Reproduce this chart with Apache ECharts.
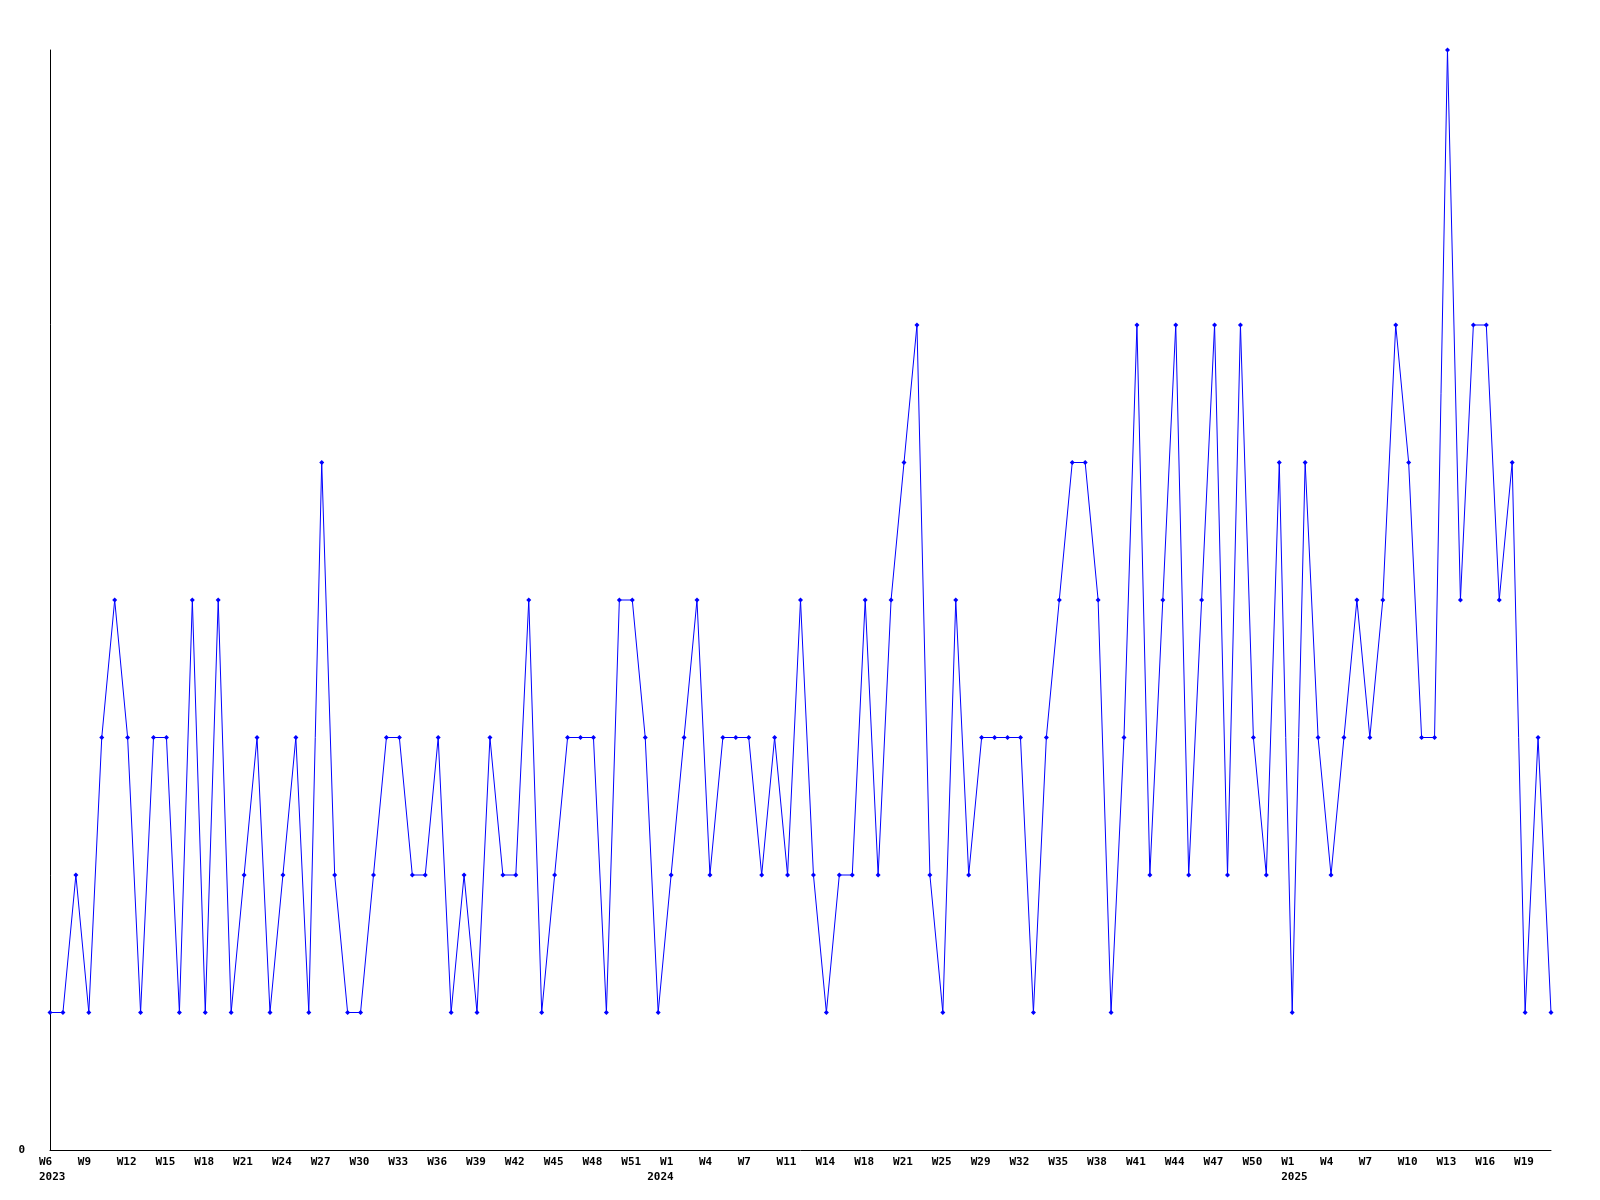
<!DOCTYPE html>
<html>
<head>
<meta charset="utf-8">
<script src="https://cdn.jsdelivr.net/npm/echarts@6/dist/echarts.min.js"></script>
<style>
html,body{margin:0;padding:0;background:#fff;}
#chart{width:1600px;height:1200px;}
</style>
</head>
<body>
<div id="chart"></div>
<script>
// Categories (year-week), one per data point
const weeks = [
  "2023-W6","2023-W7","2023-W8","2023-W9","2023-W10","2023-W11","2023-W12","2023-W13","2023-W14","2023-W15",
  "2023-W16","2023-W17","2023-W18","2023-W19","2023-W20","2023-W21","2023-W22","2023-W23","2023-W24","2023-W25",
  "2023-W26","2023-W27","2023-W28","2023-W29","2023-W30","2023-W31","2023-W32","2023-W33","2023-W34","2023-W35",
  "2023-W36","2023-W37","2023-W38","2023-W39","2023-W40","2023-W41","2023-W42","2023-W43","2023-W44","2023-W45",
  "2023-W46","2023-W47","2023-W48","2023-W49","2023-W50","2023-W51","2023-W52",
  "2024-W0","2024-W1","2024-W2","2024-W3","2024-W4","2024-W5","2024-W6","2024-W7","2024-W8","2024-W9",
  "2024-W11","2024-W12","2024-W13","2024-W14","2024-W15","2024-W16","2024-W18","2024-W19","2024-W20","2024-W21",
  "2024-W22","2024-W23","2024-W25","2024-W26","2024-W27","2024-W29","2024-W30","2024-W31","2024-W32","2024-W33",
  "2024-W34","2024-W35","2024-W36","2024-W37","2024-W38","2024-W39","2024-W40","2024-W41","2024-W42","2024-W43",
  "2024-W44","2024-W45","2024-W46","2024-W47","2024-W48","2024-W49","2024-W50","2024-W51","2024-W52",
  "2025-W1","2025-W2","2025-W3","2025-W4","2025-W5","2025-W6","2025-W7","2025-W8","2025-W9","2025-W10",
  "2025-W11","2025-W12","2025-W13","2025-W14","2025-W15","2025-W16","2025-W17","2025-W18","2025-W19","2025-W20",
  "2025-W21"
];

// Weekly counts
const counts = [
  1,1,2,1,3,4,3,1,3,3,
  1,4,1,4,1,2,3,1,2,3,
  1,5,2,1,1,2,3,3,2,2,
  3,1,2,1,3,2,2,4,1,2,
  3,3,3,1,4,4,3,1,2,3,
  4,2,3,3,3,2,3,2,4,2,
  1,2,2,4,2,4,5,6,2,1,
  4,2,3,3,3,3,1,3,4,5,
  5,4,1,3,6,2,4,6,2,4,
  6,2,6,3,2,5,1,5,3,2,
  3,4,3,4,6,5,3,3,8,4,
  6,6,4,5,1,3,1
];

// Y axis range / tick labels
const yMin = 0;
const yMax = 8;

const FONT = '"DejaVu Sans Mono", monospace';

const weekOf = v => v.split('-')[1];
const yearOf = v => v.split('-')[0];

const chart = echarts.init(document.getElementById('chart'), null, {renderer: 'canvas'});
chart.setOption({
  animation: false,
  backgroundColor: '#ffffff',
  grid: {left: 50, right: 49, top: 50, bottom: 50, containLabel: false},
  xAxis: [{
    type: 'category',
    data: weeks,
    boundaryGap: false,
    axisLine: {show: true, lineStyle: {color: '#000', width: 1}},
    axisTick: {show: false},
    splitLine: {show: false},
    axisLabel: {
      interval: 2,
      margin: 7,
      formatter: v => '{a|' + weekOf(v) + '}',
      rich: {a: {width: 22, align: 'left', fontFamily: FONT, fontWeight: 'bold', fontSize: 11, color: '#000'}}
    }
  }, {
    type: 'category',
    data: weeks,
    boundaryGap: false,
    position: 'bottom',
    offset: 15,
    axisLine: {show: false},
    axisTick: {show: false},
    splitLine: {show: false},
    axisLabel: {
      interval: (i, v) => i === 0 || yearOf(v) !== yearOf(weeks[i - 1]),
      margin: 7,
      formatter: v => '{a|' + yearOf(v) + '}',
      rich: {a: {width: 22, align: 'left', fontFamily: FONT, fontWeight: 'bold', fontSize: 11, color: '#000'}}
    }
  }],
  yAxis: {
    type: 'value',
    min: yMin,
    max: yMax,
    interval: yMax - yMin,
    axisLine: {show: true, lineStyle: {color: '#000', width: 1}},
    axisTick: {show: false},
    splitLine: {show: false},
    axisLabel: {
      showMaxLabel: false,
      margin: 25,
      fontFamily: FONT, fontWeight: 'bold', fontSize: 11, color: '#000'
    }
  },
  series: [{
    type: 'line',
    xAxisIndex: 0,
    data: counts,
    symbol: 'diamond',
    symbolSize: 5,
    showAllSymbol: true,
    lineStyle: {color: '#0000ff', width: 1},
    itemStyle: {color: '#0000ff'}
  }]
});
</script>
</body>
</html>
